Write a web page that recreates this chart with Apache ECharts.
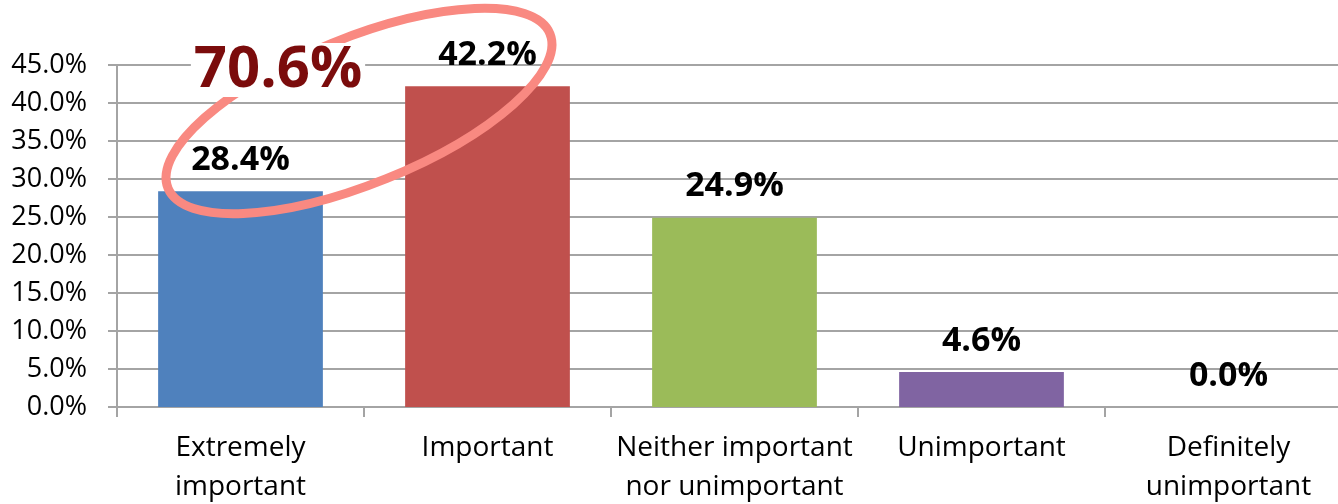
<!DOCTYPE html>
<html>
<head>
<meta charset="utf-8">
<script src="https://cdn.jsdelivr.net/npm/echarts@6/dist/echarts.min.js"></script>
<style>
  html, body { margin: 0; padding: 0; background: #fff; }
  #chart { width: 1338px; height: 504px; }
</style>
</head>
<body>
<div id="chart"></div>
<script>
// Survey answers: how important is it?
const categories = [
  'Extremely\nimportant',
  'Important',
  'Neither important\nnor unimportant',
  'Unimportant',
  'Definitely\nunimportant'
];
const shares = [28.4, 42.2, 24.9, 4.6, 0.0];
const barColors = ['#4F81BD', '#C0504D', '#9BBB59', '#8064A2', '#F79646'];
const yTicks = { min: 0, max: 45, step: 5 };

// Combined share of the two "important" answers
const topTwo = (shares[0] + shares[1]).toFixed(1) + '%';

const FONT = '"Open Sans", "Noto Sans", sans-serif';
const GRID_COLOR = '#A4A4A4';

const chart = echarts.init(document.getElementById('chart'), null, { renderer: 'canvas' });

chart.setOption({
  animation: false,
  backgroundColor: '#fff',
  grid: {
    left: 117, right: -14, top: 65, bottom: 97,
    containLabel: false,
    outerBoundsMode: 'none'
  },
  xAxis: {
    type: 'category',
    data: categories,
    boundaryGap: true,
    axisLine: { show: true, lineStyle: { color: GRID_COLOR, width: 2 } },
    axisTick: { show: true, length: 10, alignWithLabel: false, lineStyle: { color: GRID_COLOR, width: 2 } },
    axisLabel: {
      interval: 0,
      margin: 22,
      color: '#000',
      fontFamily: FONT,
      fontSize: 28,
      lineHeight: 39
    }
  },
  yAxis: {
    type: 'value',
    min: yTicks.min,
    max: yTicks.max,
    interval: yTicks.step,
    axisLine: { show: true, lineStyle: { color: GRID_COLOR, width: 2 } },
    axisTick: { show: true, length: 9, lineStyle: { color: GRID_COLOR, width: 2 } },
    splitLine: { show: true, lineStyle: { color: GRID_COLOR, width: 2 } },
    axisLabel: {
      margin: 30,
      color: '#000',
      fontFamily: FONT,
      fontSize: 27,
      formatter: v => v.toFixed(1) + '%'
    }
  },
  series: [{
    type: 'bar',
    barWidth: '66.7%',
    data: shares.map((v, i) => ({ value: v, itemStyle: { color: barColors[i] } })),
    label: {
      show: true,
      position: 'top',
      distance: 14,
      color: '#000',
      fontFamily: FONT,
      fontWeight: 'bold',
      fontSize: 34,
      formatter: p => p.value.toFixed(1) + '%'
    },
    z: 2
  }],
  graphic: [
    // highlight ring around the two "important" bars
    {
      type: 'ellipse',
      shape: { cx: 0, cy: 0, rx: 206, ry: 73 },
      x: 359,
      y: 111,
      rotation: 22 * Math.PI / 180,
      style: { fill: 'none', stroke: '#F98981', lineWidth: 9 },
      z: 10
    },
    {
      type: 'text',
      x: 278,
      y: 70,
      style: {
        text: topTwo,
        fill: '#7B0C0C',
        font: 'bold 58px ' + FONT,
        lineHeight: 54,
        align: 'center',
        verticalAlign: 'middle',
        backgroundColor: '#fff',
        padding: [0, 3, 0, 3]
      },
      z: 11
    }
  ]
});
</script>
</body>
</html>
